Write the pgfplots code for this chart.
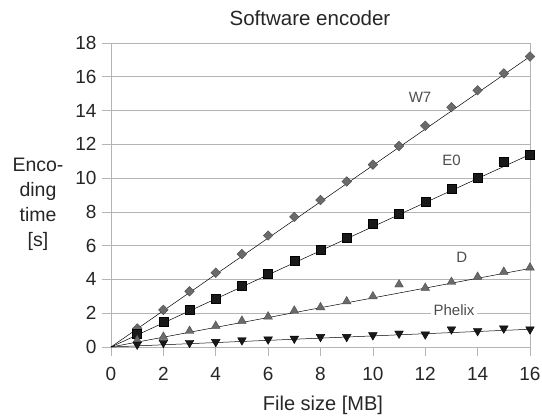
\documentclass[border=0pt]{standalone}
\usepackage{fontspec}
\setmainfont{Liberation Sans}
\usepackage{pgfplots}
\pgfplotsset{compat=1.18}
\definecolor{gridgray}{HTML}{B4B4B4}
\definecolor{markgray}{HTML}{6A6A6A}
\begin{document}
\begin{tikzpicture}
\begin{axis}[
  scale only axis, width=419pt, height=304pt,
  xmin=0, xmax=16, ymin=0, ymax=18,
  xtick={0,2,...,16}, ytick={0,2,...,18},
  ymajorgrids, major grid style={gridgray, line width=0.6pt},
  axis line style={gridgray, line width=0.6pt},
  tick style={gridgray, line width=0.6pt},
  tick align=outside, major tick length=9pt,
  xtick pos=bottom, ytick pos=left,
  /pgf/number format/assume math mode=true,
  ticklabel style={font=\fontsize{19}{19}\selectfont, text=black!85},
  xticklabel style={yshift=-8pt},
  yticklabel style={xshift=-2pt},
  clip=false,
]
% trend lines
\addplot[black, line width=0.5pt] coordinates {(0,0) (16,17.2)};
\addplot[black, line width=0.5pt] coordinates {(0,0) (16,11.4)};
\addplot[black, line width=0.5pt] coordinates {(0,0) (16,4.65)};
\addplot[black, line width=0.5pt] coordinates {(0,0) (16,1.05)};
% W7
\addplot[only marks, mark=square*, mark size=3.4pt, mark options={rotate=45, fill=markgray, draw=black!70, line width=0.4pt}] coordinates {
(1,1.1) (2,2.2) (3,3.3) (4,4.4) (5,5.5) (6,6.6) (7,7.7) (8,8.7) (9,9.8) (10,10.8) (11,11.9) (12,13.1) (13,14.2) (14,15.2) (15,16.2) (16,17.2)};
% E0
\addplot[only marks, mark=square*, mark size=4.5pt, mark options={fill=black!90, draw=black}] coordinates {
(1,0.8) (2,1.5) (3,2.2) (4,2.85) (5,3.65) (6,4.35) (7,5.1) (8,5.75) (9,6.5) (10,7.3) (11,7.9) (12,8.6) (13,9.4) (14,10.05) (15,11.0) (16,11.4)};
% D
\addplot[only marks, mark=triangle*, mark size=5pt, mark options={fill=markgray, draw=black!70, line width=0.4pt}] coordinates {
(1,0.4) (2,0.6) (3,0.95) (4,1.25) (5,1.55) (6,1.8) (7,2.15) (8,2.35) (9,2.7) (10,3.0) (11,3.7) (12,3.5) (13,3.85) (14,4.15) (15,4.45) (16,4.7)};
% Phelix
\addplot[only marks, mark=triangle*, mark size=5pt, mark options={rotate=180, fill=black!90, draw=black}] coordinates {
(1,0.15) (2,0.25) (3,0.25) (4,0.3) (5,0.4) (6,0.45) (7,0.5) (8,0.6) (9,0.6) (10,0.7) (11,0.8) (12,0.75) (13,1.05) (14,0.95) (15,1.1) (16,1.05)};
\node[font=\fontsize{15}{15}\selectfont, text=black!70] at (axis cs:11.8,14.8) {W7};
\node[font=\fontsize{15}{15}\selectfont, text=black!70] at (axis cs:13.0,11.07) {E0};
\node[font=\fontsize{15}{15}\selectfont, text=black!70] at (axis cs:13.4,5.3) {D};
\node[font=\fontsize{15}{15}\selectfont, text=black!70, fill=white, inner sep=3pt] at (axis cs:13.1,2.2) {Phelix};
\end{axis}
\node[font=\fontsize{20.5}{20.5}\selectfont, text=black!85] at (199pt,329pt) {Software encoder};
\node[font=\fontsize{20}{20}\selectfont, text=black!85] at (212pt,-58pt) {File size [MB]};
\node[font=\fontsize{19.5}{25}\selectfont, text=black!85, align=center] at (-73pt,143pt) {Enco-\\ding\\time\\{[s]}};
\pgfresetboundingbox
\useasboundingbox (-111pt,-70pt) rectangle (431pt,347pt);
\end{tikzpicture}
\end{document}
